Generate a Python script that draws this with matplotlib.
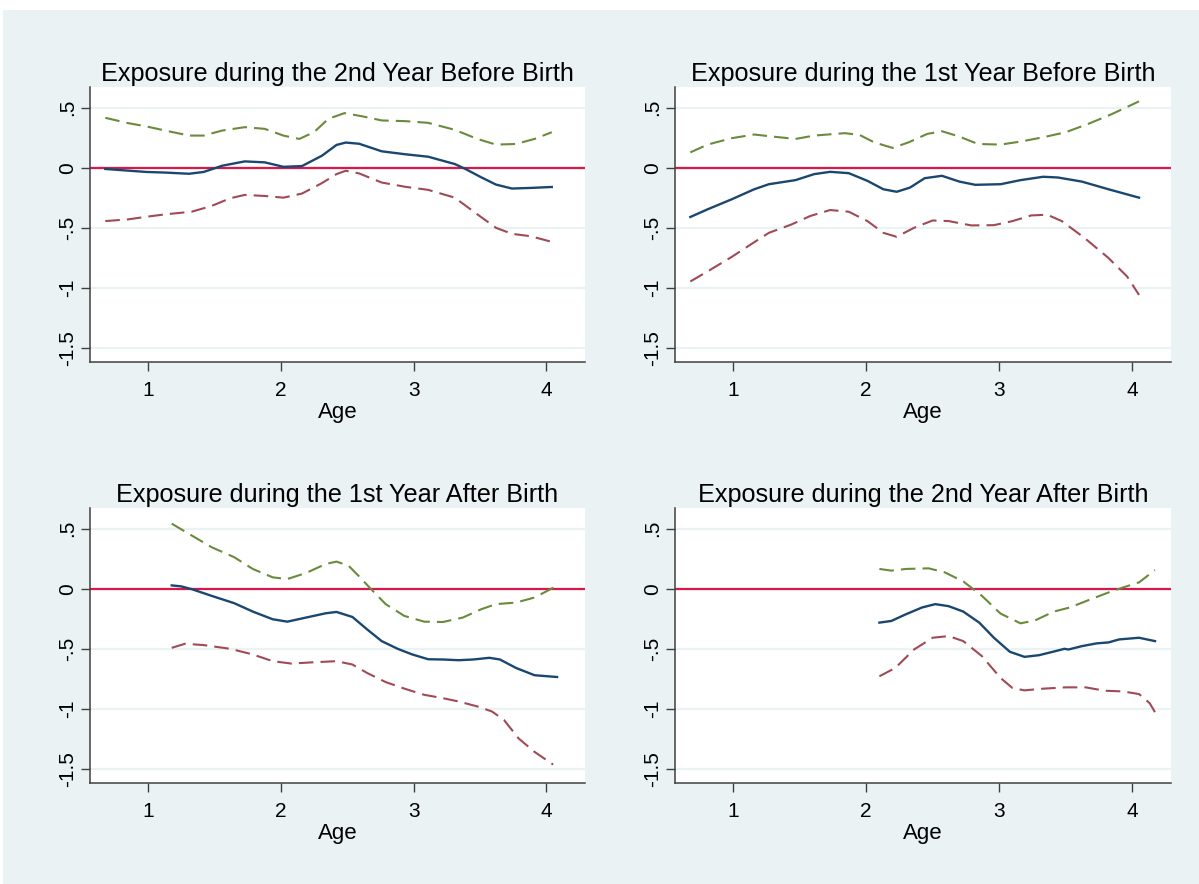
import matplotlib
matplotlib.use("Agg")
import matplotlib.pyplot as plt

plt.rcParams['font.family'] = ['Liberation Sans', 'DejaVu Sans']

titles = ["Exposure during the 2nd Year Before Birth",
          "Exposure during the 1st Year Before Birth",
          "Exposure during the 1st Year After Birth",
          "Exposure during the 2nd Year After Birth"]

xticks = [1, 2, 3, 4]
yticks = [-1.5, -1, -0.5, 0, 0.5]
ytick_labels = ["-1.5", "-1", "-.5", "0", ".5"]
xlabel = "Age"

# Panel 1: 2nd year before birth
p1_est_x = [0.68, 0.99, 1.13, 1.31, 1.42, 1.56, 1.73, 1.88, 2.02, 2.16, 2.31, 2.42, 2.49, 2.59, 2.76, 2.94, 3.11, 3.31, 3.39, 3.51, 3.62, 3.74, 3.88, 4.04]
p1_est_y = [-0.01, -0.035, -0.04, -0.05, -0.035, 0.017, 0.053, 0.045, 0.008, 0.014, 0.10, 0.19, 0.21, 0.20, 0.137, 0.112, 0.092, 0.031, -0.01, -0.08, -0.14, -0.173, -0.168, -0.16]
p1_hi_x = [0.68, 0.85, 0.99, 1.13, 1.31, 1.42, 1.56, 1.73, 1.88, 2.02, 2.14, 2.25, 2.36, 2.48, 2.62, 2.76, 2.94, 3.11, 3.31, 3.48, 3.62, 3.77, 3.91, 4.04]
p1_hi_y = [0.416, 0.372, 0.344, 0.31, 0.268, 0.268, 0.31, 0.338, 0.324, 0.268, 0.24, 0.296, 0.408, 0.455, 0.427, 0.394, 0.388, 0.374, 0.316, 0.24, 0.193, 0.198, 0.24, 0.296]
p1_lo_x = [0.68, 0.85, 0.99, 1.13, 1.33, 1.48, 1.62, 1.73, 1.88, 2.02, 2.16, 2.31, 2.42, 2.49, 2.59, 2.76, 2.94, 3.11, 3.31, 3.48, 3.62, 3.74, 3.88, 4.04]
p1_lo_y = [-0.444, -0.43, -0.408, -0.388, -0.366, -0.318, -0.254, -0.226, -0.235, -0.249, -0.215, -0.128, -0.053, -0.025, -0.047, -0.123, -0.159, -0.184, -0.249, -0.388, -0.5, -0.55, -0.57, -0.617]

# Panel 2: 1st year before birth
p2_est_x = [0.68, 0.81, 0.99, 1.16, 1.27, 1.47, 1.61, 1.73, 1.87, 2.01, 2.13, 2.23, 2.33, 2.44, 2.57, 2.70, 2.82, 3.01, 3.16, 3.33, 3.44, 3.62, 3.82, 4.05]
p2_est_y = [-0.41, -0.346, -0.263, -0.179, -0.137, -0.103, -0.053, -0.034, -0.045, -0.109, -0.179, -0.2, -0.165, -0.087, -0.067, -0.115, -0.142, -0.137, -0.103, -0.075, -0.081, -0.115, -0.179, -0.249]
p2_hi_x = [0.68, 0.81, 0.99, 1.16, 1.27, 1.47, 1.61, 1.84, 1.95, 2.06, 2.20, 2.32, 2.46, 2.57, 2.70, 2.84, 3.01, 3.16, 3.33, 3.50, 3.67, 3.84, 4.05]
p2_hi_y = [0.128, 0.193, 0.246, 0.277, 0.263, 0.24, 0.268, 0.288, 0.274, 0.212, 0.165, 0.212, 0.282, 0.304, 0.26, 0.198, 0.193, 0.218, 0.254, 0.296, 0.366, 0.444, 0.553]
p2_lo_x = [0.68, 0.81, 0.99, 1.16, 1.27, 1.44, 1.58, 1.73, 1.87, 2.01, 2.13, 2.23, 2.36, 2.50, 2.62, 2.79, 2.96, 3.10, 3.24, 3.36, 3.47, 3.64, 3.82, 3.96, 4.05]
p2_lo_y = [-0.947, -0.863, -0.743, -0.62, -0.542, -0.472, -0.402, -0.352, -0.366, -0.444, -0.542, -0.575, -0.5, -0.439, -0.444, -0.48, -0.478, -0.444, -0.397, -0.391, -0.444, -0.584, -0.751, -0.905, -1.059]

# Panel 3: 1st year after birth
p3_est_x = [1.18, 1.25, 1.33, 1.48, 1.65, 1.79, 1.94, 2.05, 2.19, 2.34, 2.42, 2.54, 2.65, 2.76, 2.88, 2.99, 3.11, 3.22, 3.34, 3.45, 3.57, 3.65, 3.77, 3.91, 4.08]
p3_est_y = [0.028, 0.02, -0.003, -0.059, -0.12, -0.19, -0.254, -0.274, -0.24, -0.204, -0.193, -0.235, -0.338, -0.436, -0.5, -0.547, -0.587, -0.589, -0.595, -0.589, -0.575, -0.589, -0.659, -0.72, -0.735]
p3_hi_x = [1.18, 1.33, 1.48, 1.65, 1.79, 1.94, 2.05, 2.19, 2.34, 2.42, 2.51, 2.59, 2.68, 2.79, 2.93, 3.08, 3.22, 3.37, 3.51, 3.62, 3.77, 3.91, 4.08]
p3_hi_y = [0.542, 0.444, 0.346, 0.263, 0.165, 0.095, 0.081, 0.131, 0.207, 0.226, 0.193, 0.103, -0.003, -0.128, -0.226, -0.274, -0.277, -0.24, -0.17, -0.128, -0.115, -0.073, 0.025]
p3_lo_x = [1.18, 1.28, 1.42, 1.62, 1.79, 1.94, 2.08, 2.25, 2.42, 2.54, 2.65, 2.79, 2.94, 3.08, 3.22, 3.34, 3.48, 3.59, 3.68, 3.79, 3.91, 4.05]
p3_lo_y = [-0.492, -0.458, -0.469, -0.5, -0.547, -0.603, -0.623, -0.612, -0.603, -0.631, -0.701, -0.777, -0.835, -0.883, -0.911, -0.939, -0.98, -1.022, -1.092, -1.246, -1.358, -1.464]

# Panel 4: 2nd year after birth
p4_est_x = [2.10, 2.19, 2.30, 2.42, 2.52, 2.62, 2.73, 2.85, 2.96, 3.08, 3.19, 3.30, 3.42, 3.49, 3.52, 3.62, 3.73, 3.82, 3.90, 4.05, 4.17]
p4_est_y = [-0.282, -0.268, -0.212, -0.156, -0.128, -0.145, -0.19, -0.282, -0.408, -0.525, -0.567, -0.553, -0.52, -0.5, -0.506, -0.478, -0.455, -0.447, -0.422, -0.408, -0.436]
p4_hi_x = [2.10, 2.19, 2.30, 2.47, 2.59, 2.73, 2.87, 3.01, 3.16, 3.27, 3.41, 3.53, 3.67, 3.82, 3.93, 4.05, 4.17]
p4_hi_y = [0.165, 0.151, 0.165, 0.17, 0.137, 0.061, -0.059, -0.207, -0.288, -0.263, -0.19, -0.156, -0.095, -0.031, 0.011, 0.053, 0.156]
p4_lo_x = [2.10, 2.22, 2.36, 2.50, 2.62, 2.73, 2.87, 3.01, 3.10, 3.19, 3.33, 3.50, 3.65, 3.79, 3.93, 4.05, 4.13, 4.17]
p4_lo_y = [-0.729, -0.659, -0.506, -0.408, -0.394, -0.436, -0.561, -0.743, -0.827, -0.846, -0.832, -0.821, -0.821, -0.849, -0.855, -0.877, -0.953, -1.028]

panels = [
    (p1_est_x, p1_est_y, p1_hi_x, p1_hi_y, p1_lo_x, p1_lo_y),
    (p2_est_x, p2_est_y, p2_hi_x, p2_hi_y, p2_lo_x, p2_lo_y),
    (p3_est_x, p3_est_y, p3_hi_x, p3_hi_y, p3_lo_x, p3_lo_y),
    (p4_est_x, p4_est_y, p4_hi_x, p4_hi_y, p4_lo_x, p4_lo_y),
]

BG = "#eaf2f3"
NAVY = "#1a476f"
GREEN = "#6a8a3c"
MAROON = "#a04a55"
RED = "#d9174a"
AXC = "#404040"

W, H = 1199, 884
fig = plt.figure(figsize=(W / 100, H / 100), dpi=100)
fig.patch.set_facecolor("white")
fig.add_artist(plt.Rectangle((3 / W, 0), 1, 1 - 10 / H, transform=fig.transFigure,
                             facecolor=BG, edgecolor="none", zorder=-10))

# axes positions in pixels: (left, top, right, bottom)
boxes = [(90, 86.7, 585, 361.7), (675, 86.7, 1171, 361.7),
         (90, 507.7, 585, 782.7), (675, 507.7, 1171, 782.7)]

for (l, t, r, b), title, data in zip(boxes, titles, panels):
    ax = fig.add_axes([l / W, 1 - b / H, (r - l) / W, (b - t) / H])
    ex, ey, hx, hy, lx, ly = data
    ax.set_facecolor("white")
    ax.set_xlim(0.565, 4.29)
    ax.set_ylim(-1.615, 0.675)
    for yt in yticks:
        ax.axhline(yt, color=BG, lw=1.6, zorder=0)
    ax.axhline(0, color=RED, lw=1.6, zorder=2)
    ax.plot(hx, hy, color=GREEN, lw=1.5, dashes=(7, 3.4), zorder=3)
    ax.plot(lx, ly, color=MAROON, lw=1.5, dashes=(7, 3.4), zorder=3)
    ax.plot(ex, ey, color=NAVY, lw=1.7, zorder=4)
    ax.set_xticks(xticks)
    ax.set_xticklabels([str(v) for v in xticks])
    ax.set_yticks(yticks)
    ax.set_yticklabels(ytick_labels, rotation=90, va="center")
    for s in ["top", "right"]:
        ax.spines[s].set_visible(False)
    for s in ["left", "bottom"]:
        ax.spines[s].set_color(AXC)
        ax.spines[s].set_linewidth(1.1)
    ax.tick_params(axis="both", direction="out", length=6.5, width=1.0,
                   color=AXC, labelsize=15, labelcolor="black")
    ax.tick_params(axis="x", pad=7.5)
    ax.tick_params(axis="y", pad=3)
    ax.set_xlabel(xlabel, fontsize=16, labelpad=1)
    ax.set_title(title, fontsize=18.2, pad=4)

fig.savefig("out.png", dpi=100, facecolor=fig.get_facecolor())
